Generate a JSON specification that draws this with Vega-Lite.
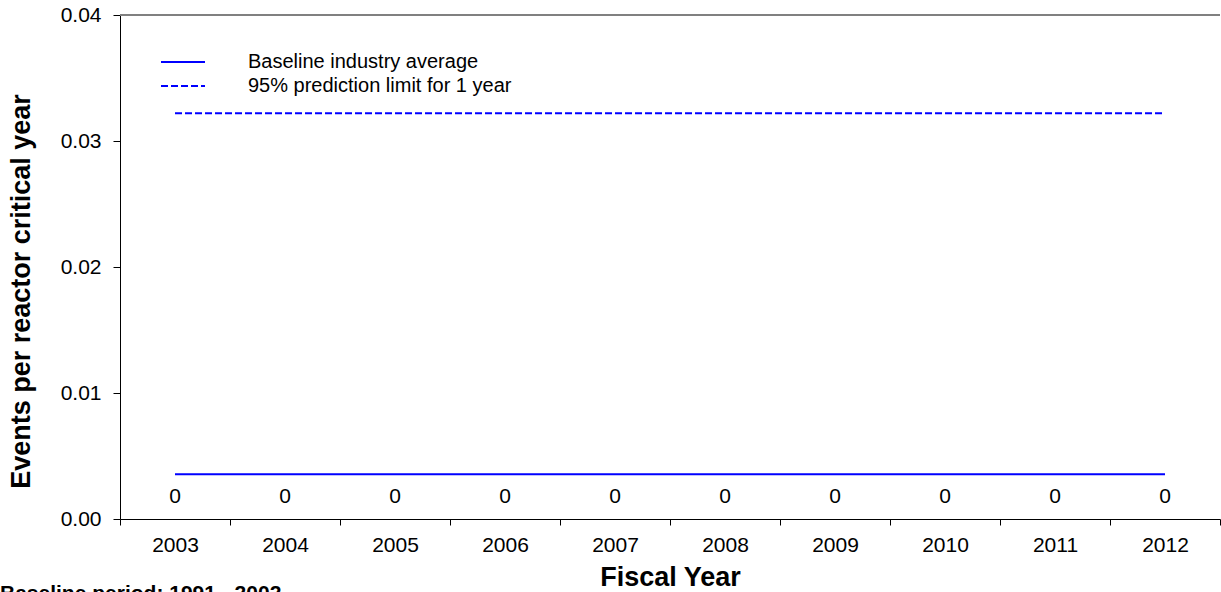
{
  "$schema": "https://vega.github.io/schema/vega-lite/v6.json",
  "autosize": "none",
  "width": 1100,
  "height": 504,
  "padding": {"left": 120, "top": 15, "right": 1, "bottom": 73},
  "background": "white",
  "config": {
    "view": {"stroke": null},
    "font": "Liberation Sans"
  },
  "title": {
    "text": "Baseline period:  1991 - 2002",
    "orient": "bottom",
    "anchor": "start",
    "frame": "group",
    "dx": -120,
    "offset": -7,
    "fontSize": 21,
    "fontWeight": "bold",
    "font": "Liberation Sans",
    "color": "black"
  },
  "datasets": {
    "lines": [
      {"year": "2003", "series": "Baseline industry average", "value": 0.00355},
      {"year": "2004", "series": "Baseline industry average", "value": 0.00355},
      {"year": "2005", "series": "Baseline industry average", "value": 0.00355},
      {"year": "2006", "series": "Baseline industry average", "value": 0.00355},
      {"year": "2007", "series": "Baseline industry average", "value": 0.00355},
      {"year": "2008", "series": "Baseline industry average", "value": 0.00355},
      {"year": "2009", "series": "Baseline industry average", "value": 0.00355},
      {"year": "2010", "series": "Baseline industry average", "value": 0.00355},
      {"year": "2011", "series": "Baseline industry average", "value": 0.00355},
      {"year": "2012", "series": "Baseline industry average", "value": 0.00355},
      {"year": "2003", "series": "95% prediction limit for 1 year", "value": 0.0322},
      {"year": "2004", "series": "95% prediction limit for 1 year", "value": 0.0322},
      {"year": "2005", "series": "95% prediction limit for 1 year", "value": 0.0322},
      {"year": "2006", "series": "95% prediction limit for 1 year", "value": 0.0322},
      {"year": "2007", "series": "95% prediction limit for 1 year", "value": 0.0322},
      {"year": "2008", "series": "95% prediction limit for 1 year", "value": 0.0322},
      {"year": "2009", "series": "95% prediction limit for 1 year", "value": 0.0322},
      {"year": "2010", "series": "95% prediction limit for 1 year", "value": 0.0322},
      {"year": "2011", "series": "95% prediction limit for 1 year", "value": 0.0322},
      {"year": "2012", "series": "95% prediction limit for 1 year", "value": 0.0322}
    ],
    "counts": [
      {"year": "2003", "count": 0},
      {"year": "2004", "count": 0},
      {"year": "2005", "count": 0},
      {"year": "2006", "count": 0},
      {"year": "2007", "count": 0},
      {"year": "2008", "count": 0},
      {"year": "2009", "count": 0},
      {"year": "2010", "count": 0},
      {"year": "2011", "count": 0},
      {"year": "2012", "count": 0}
    ]
  },
  "encoding": {
    "x": {
      "field": "year",
      "type": "ordinal",
      "scale": {"type": "band", "paddingInner": 0, "paddingOuter": 0},
      "axis": {
        "title": "Fiscal Year",
        "labelAngle": 0,
        "tickBand": "extent",
        "tickSize": 6,
        "tickColor": "black",
        "domainColor": "black",
        "labelColor": "black",
        "titleColor": "black",
        "labelFont": "Liberation Sans",
        "titleFont": "Liberation Sans",
        "labelFontSize": 21,
        "titleFontSize": 27,
        "titleFontWeight": "bold",
        "labelPadding": 9,
        "titlePadding": 9,
        "grid": false
      }
    }
  },
  "layer": [
    {
      "data": {"values": [{"v": 0.04}]},
      "mark": {"type": "rule", "color": "#808080", "strokeWidth": 2},
      "encoding": {
        "x": null,
        "y": {"field": "v", "type": "quantitative"}
      }
    },
    {
      "data": {"name": "lines"},
      "mark": {"type": "line", "color": "#0000ff", "strokeWidth": 2},
      "encoding": {
        "y": {
          "field": "value",
          "type": "quantitative",
          "scale": {"domain": [0, 0.04], "nice": false},
          "axis": {
            "title": "Events per reactor critical year",
            "values": [0, 0.01, 0.02, 0.03, 0.04],
            "format": ".2f",
            "tickSize": 7,
            "tickColor": "black",
            "domainColor": "black",
            "labelColor": "black",
            "titleColor": "black",
            "labelFont": "Liberation Sans",
            "titleFont": "Liberation Sans",
            "labelFontSize": 21,
            "titleFontSize": 27,
            "titleFontWeight": "bold",
            "labelPadding": 12,
            "titlePadding": 25,
            "titleY": 276,
            "grid": false
          }
        },
        "strokeDash": {
          "field": "series",
          "type": "nominal",
          "scale": {"domain": ["Baseline industry average", "95% prediction limit for 1 year"], "range": [[1, 0], [7, 3]]},
          "legend": {
            "title": null,
            "orient": "none",
            "legendX": 40,
            "legendY": 36,
            "symbolType": "stroke",
            "symbolSize": 1936,
            "symbolStrokeColor": "#0000ff",
            "symbolStrokeWidth": 2,
            "labelOffset": 42,
            "labelLimit": 500,
            "labelFont": "Liberation Sans",
            "labelFontSize": 20,
            "labelColor": "black",
            "clipHeight": 22,
            "rowPadding": 2,
            "encode": {
              "symbols": {
                "enter": {
                  "strokeDash": {"signal": "datum.index === 1 ? [10, 6] : [1, 0]"}
                },
                "update": {
                  "strokeDash": {"signal": "datum.index === 1 ? [10, 6] : [1, 0]"}
                }
              }
            }
          }
        }
      }
    },
    {
      "data": {"name": "counts"},
      "mark": {"type": "text", "fontSize": 21, "font": "Liberation Sans", "color": "black", "baseline": "middle"},
      "encoding": {
        "y": {"datum": 0.00175, "type": "quantitative"},
        "text": {"field": "count", "type": "quantitative"}
      }
    }
  ]
}
